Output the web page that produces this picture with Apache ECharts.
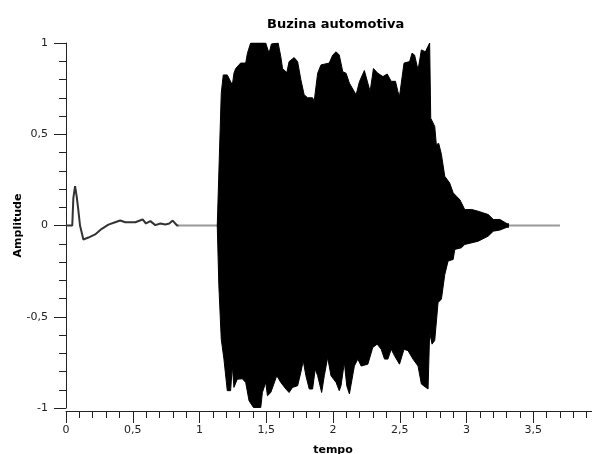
<!DOCTYPE html>
<html>
<head>
<meta charset="utf-8">
<script src="https://cdn.jsdelivr.net/npm/echarts@6/dist/echarts.min.js"></script>
<style>
  html, body { margin: 0; padding: 0; background: #fff; }
  #chart { width: 592px; height: 454px; }
</style>
</head>
<body>
<div id="chart"></div>
<script>
// sinal inicial (antes da buzina)
var tempoSinal = [0, 0.047, 0.055, 0.068, 0.080, 0.092, 0.105, 0.130, 0.168, 0.218, 0.268, 0.318, 0.368, 0.406, 0.444, 0.519, 0.574, 0.599, 0.632, 0.669, 0.707, 0.744, 0.774, 0.799, 0.832, 0.844]
var ampSinal = [0, 0, 0.15, 0.215, 0.16, 0.087, 0, -0.077, -0.066, -0.049, -0.018, 0.005, 0.018, 0.027, 0.018, 0.018, 0.033, 0.011, 0.024, 0.002, 0.011, 0.005, 0.011, 0.027, 0, 0]

// trecho de silencio
var tempoRepouso = [0.844, 3.70]
var ampRepouso = [0, 0]

// envoltoria superior da buzina
var tempoSuperior = [1.133, 1.163, 1.178, 1.208, 1.246, 1.258, 1.271, 1.308, 1.346, 1.359, 1.383, 1.496, 1.521, 1.539, 1.589, 1.609, 1.622, 1.654, 1.671, 1.709, 1.735, 1.759, 1.784, 1.810, 1.847, 1.859, 1.885, 1.910, 1.972, 1.998, 2.023, 2.047, 2.073, 2.098, 2.123, 2.173, 2.198, 2.235, 2.261, 2.278, 2.303, 2.336, 2.374, 2.406, 2.436, 2.468, 2.486, 2.498, 2.532, 2.574, 2.592, 2.611, 2.637, 2.662, 2.692, 2.724, 2.732, 2.762, 2.774, 2.792, 2.812, 2.837, 2.874, 2.900, 2.925, 2.950, 2.962, 2.987, 3.038, 3.088, 3.163, 3.201, 3.250, 3.301, 3.318]
var ampSuperior = [0, 0.725, 0.825, 0.825, 0.77, 0.834, 0.86, 0.89, 0.89, 0.944, 1.0, 1.0, 0.944, 0.995, 1.0, 0.925, 0.86, 0.838, 0.898, 0.92, 0.898, 0.80, 0.716, 0.70, 0.70, 0.68, 0.834, 0.88, 0.89, 0.934, 0.952, 0.934, 0.843, 0.834, 0.78, 0.716, 0.788, 0.849, 0.78, 0.734, 0.86, 0.834, 0.816, 0.83, 0.79, 0.79, 0.734, 0.707, 0.89, 0.898, 0.944, 0.934, 0.852, 0.962, 0.952, 1.0, 0.588, 0.543, 0.443, 0.45, 0.39, 0.27, 0.233, 0.179, 0.16, 0.142, 0.14, 0.087, 0.088, 0.078, 0.06, 0.033, 0.033, 0.011, 0]

// envoltoria inferior da buzina
var tempoInferior = [1.133, 1.145, 1.163, 1.183, 1.208, 1.233, 1.246, 1.258, 1.283, 1.321, 1.346, 1.371, 1.404, 1.459, 1.471, 1.496, 1.509, 1.534, 1.579, 1.609, 1.647, 1.671, 1.697, 1.735, 1.759, 1.777, 1.797, 1.822, 1.847, 1.867, 1.885, 1.915, 1.935, 1.960, 1.985, 2.023, 2.047, 2.060, 2.085, 2.103, 2.123, 2.160, 2.186, 2.211, 2.261, 2.298, 2.331, 2.361, 2.386, 2.411, 2.436, 2.461, 2.498, 2.532, 2.562, 2.599, 2.637, 2.662, 2.712, 2.724, 2.742, 2.762, 2.787, 2.812, 2.837, 2.862, 2.900, 2.912, 2.962, 2.987, 3.088, 3.163, 3.201, 3.250, 3.301, 3.318]
var ampInferior = [0, -0.33, -0.623, -0.732, -0.905, -0.905, -0.77, -0.887, -0.842, -0.84, -0.86, -0.96, -0.997, -0.997, -0.915, -0.86, -0.933, -0.915, -0.823, -0.86, -0.896, -0.915, -0.887, -0.878, -0.805, -0.741, -0.823, -0.896, -0.896, -0.787, -0.823, -0.915, -0.823, -0.723, -0.823, -0.86, -0.905, -0.878, -0.75, -0.878, -0.923, -0.77, -0.732, -0.77, -0.76, -0.668, -0.65, -0.678, -0.732, -0.732, -0.678, -0.714, -0.76, -0.678, -0.686, -0.732, -0.77, -0.869, -0.896, -0.586, -0.65, -0.63, -0.422, -0.404, -0.27, -0.195, -0.186, -0.131, -0.122, -0.104, -0.086, -0.058, -0.031, -0.025, -0.01, 0]

function pares (xs, ys) {
  return xs.map(function (x, i) { return [x, ys[i]] })
}

function virgula (v) {
  return String(v).replace('.', ',')
}

var myChart = echarts.init(document.getElementById('chart'))

var option = {
  animation: false,
  textStyle: { fontFamily: 'DejaVu Sans' },
  title: {
    text: 'Buzina automotiva',
    left: 262,
    top: 13,
    textStyle: { fontSize: 13, fontWeight: 'bold', color: '#000', fontFamily: 'DejaVu Sans' }
  },
  grid: { left: 66, right: -8, top: 43, bottom: 46, outerBoundsMode: 'none', containLabel: false },
  xAxis: {
    type: 'value',
    min: 0,
    max: 4,
    interval: 0.5,
    offset: 3,
    name: 'tempo',
    nameLocation: 'middle',
    nameGap: 34,
    nameMoveOverlap: false,
    nameTextStyle: { fontSize: 11, fontWeight: 'bold', color: '#000', verticalAlign: 'top' },
    axisLine: { show: true, onZero: false, lineStyle: { color: '#222', width: 1 } },
    axisTick: { show: true, length: 12, lineStyle: { color: '#222' } },
    minorTick: { show: true, splitNumber: 5, length: 7, lineStyle: { color: '#222' } },
    splitLine: { show: false },
    axisLabel: { fontSize: 11, color: '#222', margin: 14, formatter: virgula }
  },
  yAxis: {
    type: 'value',
    min: -1,
    max: 1,
    interval: 0.5,
    name: 'Amplitude',
    nameLocation: 'middle',
    nameGap: 42,
    nameMoveOverlap: false,
    nameTextStyle: { fontSize: 11, fontWeight: 'bold', color: '#000' },
    axisLine: { show: true, onZero: false, lineStyle: { color: '#222', width: 1 } },
    axisTick: { show: true, length: 12, lineStyle: { color: '#222' } },
    minorTick: { show: true, splitNumber: 5, length: 7, lineStyle: { color: '#222' } },
    splitLine: { show: false },
    axisLabel: { fontSize: 11, color: '#222', margin: 18, formatter: virgula }
  },
  series: [
    {
      name: 'repouso',
      type: 'line',
      z: 1,
      showSymbol: false,
      data: pares(tempoRepouso, ampRepouso),
      lineStyle: { color: '#999', width: 2 }
    },
    {
      name: 'sinal',
      type: 'line',
      z: 2,
      showSymbol: false,
      data: pares(tempoSinal, ampSinal),
      lineStyle: { color: '#333', width: 2 }
    },
    {
      name: 'superior',
      type: 'line',
      z: 3,
      showSymbol: false,
      data: pares(tempoSuperior, ampSuperior),
      lineStyle: { color: '#000', width: 1 },
      areaStyle: { color: '#000', opacity: 1, origin: -0.012 }
    },
    {
      name: 'inferior',
      type: 'line',
      z: 3,
      showSymbol: false,
      data: pares(tempoInferior, ampInferior),
      lineStyle: { color: '#000', width: 1 },
      areaStyle: { color: '#000', opacity: 1, origin: 0.012 }
    }
  ]
}

myChart.setOption(option)
</script>
</body>
</html>
